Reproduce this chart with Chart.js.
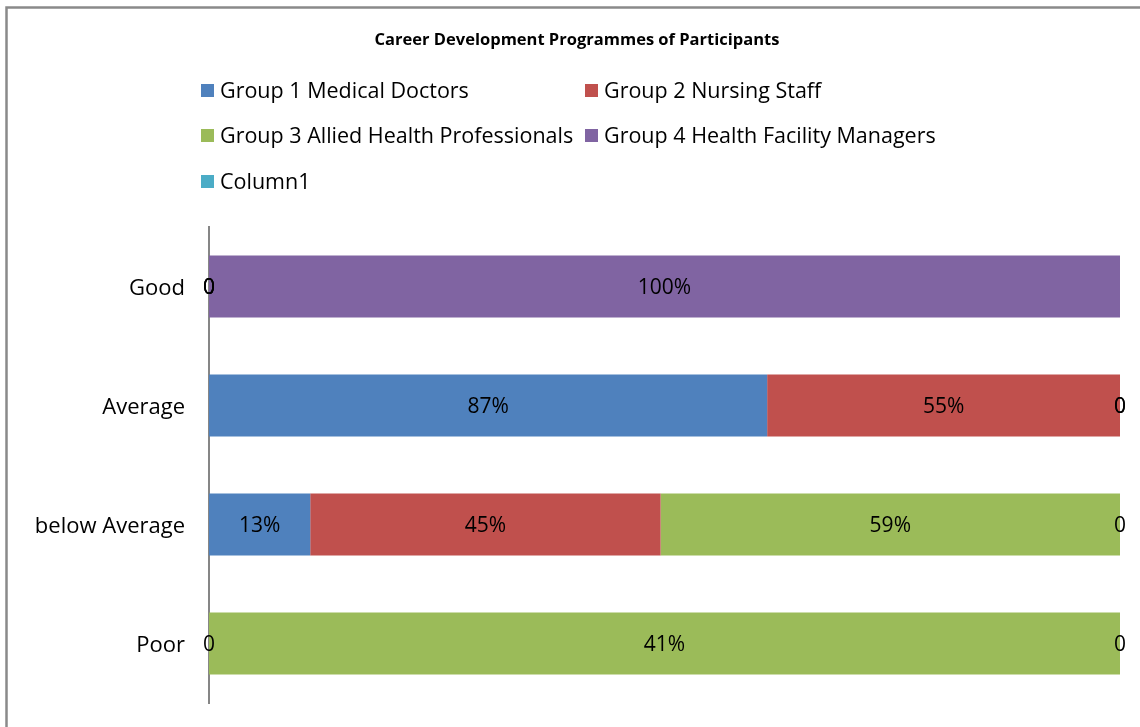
<!DOCTYPE html>
<html>
<head>
<meta charset="utf-8">
<script src="https://cdn.jsdelivr.net/npm/chart.js@4/dist/chart.umd.min.js"></script>
<style>
  html, body { margin: 0; padding: 0; background: #fff; }
  #wrap { position: relative; width: 1140px; height: 727px; }
</style>
</head>
<body>
<div id="wrap"><canvas id="c" width="1140" height="727"></canvas></div>
<script>
// ---- Data (categories listed top to bottom) ----
const categories = ["Good", "Average", "below Average", "Poor"];
const seriesNames = ["Group 1 Medical Doctors", "Group 2 Nursing Staff", "Group 3 Allied Health Professionals", "Group 4 Health Facility Managers", "Column1"];
const group1 = [0, 87, 13, 0];
const group2 = [0, 55, 45, null];
const group3 = [0, 0, 59, 41];
const group4 = [100, 0, 0, 0];
const column1 = [null, null, null, null];
const seriesColors = ["#4F81BD", "#C0504D", "#9BBB59", "#8064A2", "#4BACC6"];
const chartTitle = "Career Development Programmes of Participants";

const FONT = "'Open Sans', 'Noto Sans', sans-serif";
const rawSeries = [group1, group2, group3, group4, column1];

// 100% stacked: share of each row total
const totals = categories.map((_, i) => rawSeries.reduce((s, arr) => s + (arr[i] || 0), 0));
const pctSeries = rawSeries.map(arr => arr.map((v, i) => v === null ? null : (totals[i] ? v / totals[i] * 100 : 0)));

const datasets = seriesNames.map((name, k) => ({
  label: name,
  data: pctSeries[k],
  rawValues: rawSeries[k],
  backgroundColor: seriesColors[k],
  borderWidth: 0,
  categoryPercentage: 1.0,
  barPercentage: 0.52
}));

const fmt = v => v === 0 ? "0" : v + "%";

const labelPlugin = {
  id: "barLabels",
  afterDatasetsDraw(chart) {
    const ctx = chart.ctx;
    ctx.save();
    ctx.font = "21px " + FONT;
    ctx.fillStyle = "#000";
    ctx.textAlign = "center";
    ctx.textBaseline = "middle";
    chart.data.datasets.forEach((ds, di) => {
      const meta = chart.getDatasetMeta(di);
      meta.data.forEach((bar, i) => {
        const v = ds.rawValues[i];
        if (v === null || v === undefined) return;
        const x = (bar.x + bar.base) / 2;
        ctx.fillText(fmt(v), x, bar.y + 2);
      });
    });
    ctx.restore();
  }
};

const decorPlugin = {
  id: "decor",
  beforeDraw(chart) {
    const ctx = chart.ctx;
    ctx.save();
    ctx.fillStyle = "#fff";
    ctx.fillRect(0, 0, chart.width, chart.height);
    ctx.restore();
  },
  afterDraw(chart) {
    const ctx = chart.ctx;
    ctx.save();
    // frame
    ctx.strokeStyle = "#8a8a8a";
    ctx.lineWidth = 2.5;
    ctx.strokeRect(6.5, 7.5, 1300, 900);
    // title
    ctx.fillStyle = "#000";
    ctx.font = "bold 16.5px " + FONT;
    ctx.textAlign = "center";
    ctx.textBaseline = "middle";
    ctx.fillText(chartTitle, 577, 40);
    // legend (2-column grid)
    const colX = [201, 585];
    const rowY = [91, 136, 182];
    ctx.font = "21.5px " + FONT;
    ctx.textAlign = "left";
    chart.data.datasets.forEach((ds, k) => {
      const x = colX[k % 2];
      const y = rowY[Math.floor(k / 2)];
      ctx.fillStyle = ds.backgroundColor;
      ctx.fillRect(x, y - 7, 13, 13);
      ctx.fillStyle = "#000";
      ctx.fillText(ds.label, x + 19, y + 1);
    });
    ctx.restore();
  }
};

new Chart(document.getElementById("c"), {
  type: "bar",
  data: { labels: categories, datasets },
  options: {
    indexAxis: "y",
    responsive: false,
    animation: false,
    layout: { padding: { top: 227, bottom: 24, right: 20, left: 0 } },
    plugins: {
      legend: { display: false },
      title: { display: false },
      tooltip: { enabled: false }
    },
    scales: {
      x: { stacked: true, min: 0, max: 100, display: false },
      y: {
        stacked: true,
        grid: { display: false, drawTicks: false, tickLength: 0 },
        border: { display: true, color: "#868686", width: 2 },
        ticks: { color: "#000", font: { family: FONT, size: 22 }, padding: 24, labelOffset: 2 },
        afterFit(scale) { scale.width = 209; scale.paddingTop = 0; scale.paddingBottom = 0; }
      }
    }
  },
  plugins: [decorPlugin, labelPlugin]
});
</script>
</body>
</html>
